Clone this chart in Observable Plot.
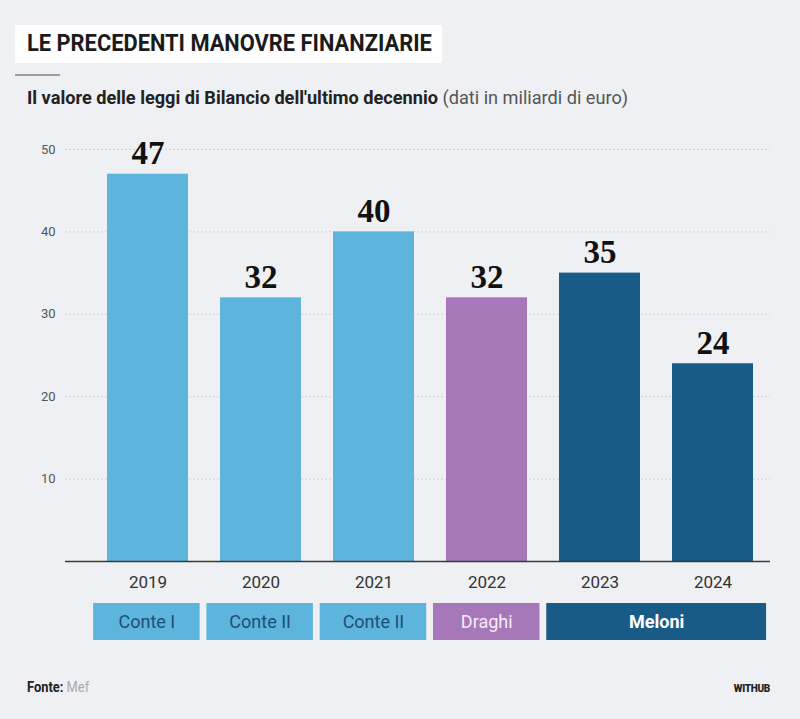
<!DOCTYPE html>
<html><head><meta charset="utf-8">
<script src="https://cdn.jsdelivr.net/npm/d3@7"></script>
<script src="https://cdn.jsdelivr.net/npm/@observablehq/plot@0.6"></script>
<style>
body{margin:0;background:#eef0f3;font-family:Roboto,sans-serif;}
#wrap{position:relative;width:800px;height:719px;overflow:hidden;background:#eef0f3}
#title{position:absolute;left:15px;top:25px;width:427px;height:38px;background:#fff;}
#title span{position:absolute;left:12px;top:4px;font-size:24px;font-weight:700;color:#1b1b1b;white-space:nowrap;transform-origin:0 50%;transform:scaleX(0.91);}
#rule{position:absolute;left:15px;top:74px;width:45px;height:2px;background:#9aa0a6;}
#sub{position:absolute;left:27px;top:86px;font-size:19px;color:#555;white-space:nowrap;transform-origin:0 50%;transform:scaleX(0.955);}
#sub b{color:#222;}
#main{position:absolute;left:0;top:120px;}
#gov{position:absolute;left:0;top:596px;}
#src{position:absolute;left:27px;top:679px;font-size:14px;color:#aaa;transform-origin:0 50%;transform:scaleX(0.92);}
#src b{color:#222;}
#brand{position:absolute;right:30px;top:683px;font-size:10px;font-weight:900;color:#222;letter-spacing:-0.3px;}
</style></head>
<body><div id="wrap">
<div id="title"><span>LE PRECEDENTI MANOVRE FINANZIARIE</span></div>
<div id="rule"></div>
<div id="sub"><b>Il valore delle leggi di Bilancio dell'ultimo decennio</b> (dati in miliardi di euro)</div>
<div id="main"></div>
<div id="gov"></div>
<div id="src"><b>Fonte:</b> Mef</div>
<div id="brand">WITHUB</div>
</div>
<script>
const years = ["2019","2020","2021","2022","2023","2024"];
const values = [47, 32, 40, 32, 35, 24];
const barColors = ["#5db4dc","#5db4dc","#5db4dc","#a678ba","#175b86","#175b86"];
const yTicks = [10, 20, 30, 40, 50];

const govNames = ["Conte I","Conte II","Conte II","Draghi","Meloni"];
const govFrom = [2019, 2020, 2021, 2022, 2023];
const govTo = [2019, 2020, 2021, 2022, 2024];
const govFill = ["#5db4dc","#5db4dc","#5db4dc","#a678ba","#175b86"];
const govText = ["#1d4f73","#1d4f73","#1d4f73","#f7eafb","#ffffff"];

const data = years.map((y, i) => ({year: y, value: values[i], color: barColors[i]}));
const gov = govNames.map((n, i) => ({name: n, from: govFrom[i], to: govTo[i], fill: govFill[i], tc: govText[i]}));

const W = 800, ML = 65, MR = 30;
const PI = 0.285, PO = 0.254, AL = 0.71;

const main = Plot.plot({
  width: W, height: 476,
  marginLeft: ML, marginRight: MR, marginTop: 29, marginBottom: 35,
  style: {background: "transparent", fontFamily: "Roboto, sans-serif", overflow: "visible"},
  x: {domain: years, paddingInner: PI, paddingOuter: PO, align: AL, label: null},
  y: {domain: [0, 50], label: null},
  marks: [
    Plot.gridY(yTicks, {stroke: "#d0d3d7", strokeOpacity: 1, strokeDasharray: "2,2"}),
    Plot.barY(data, {x: "year", y: "value", fill: "color"}),
    Plot.ruleY([0], {stroke: "#3a3a3a", strokeWidth: 1.5}),
    Plot.text(data, {x: "year", y: "value", text: d => String(d.value), lineAnchor: "bottom", dy: -10,
      fontFamily: "'Liberation Serif', 'DejaVu Serif', serif", fontWeight: "bold", fontSize: 33, fill: "#111"}),
    Plot.axisX({tickSize: 0, tickPadding: 14, fontSize: 17, fill: "#333", label: null}),
    Plot.axisY(yTicks, {tickSize: 0, tickPadding: 10, fontSize: 13, fill: "#555", label: null})
  ]
});
document.getElementById("main").appendChild(main);

// linear year scale aligned to band centers
const span = W - ML - MR;
const step = span / (years.length - PI + 2 * PO);
const bw = step * (1 - PI);
const outer = span - step * (years.length - PI);
const center0 = ML + AL * outer + bw / 2;
const y0 = +years[0];
const xDomain = [y0 - (center0 - ML) / step, y0 + (W - MR - center0) / step];

const govPlot = Plot.plot({
  width: W, height: 45,
  marginLeft: ML, marginRight: MR, marginTop: 7, marginBottom: 1,
  style: {background: "transparent", fontFamily: "Roboto, sans-serif"},
  x: {domain: xDomain, axis: null},
  marks: [
    Plot.rect(gov, {x1: d => d.from - 0.47, x2: d => d.to + 0.47, fill: "fill"}),
    Plot.text(gov.filter(d => d.name !== "Meloni"), {x: d => (d.from + d.to) / 2, frameAnchor: "middle", text: "name", fill: "tc", fontSize: 18}),
    Plot.text(gov.filter(d => d.name === "Meloni"), {x: d => (d.from + d.to) / 2, frameAnchor: "middle", text: "name", fill: "tc", fontSize: 18, fontWeight: "bold"})
  ]
});
document.getElementById("gov").appendChild(govPlot);
</script>
</body></html>
